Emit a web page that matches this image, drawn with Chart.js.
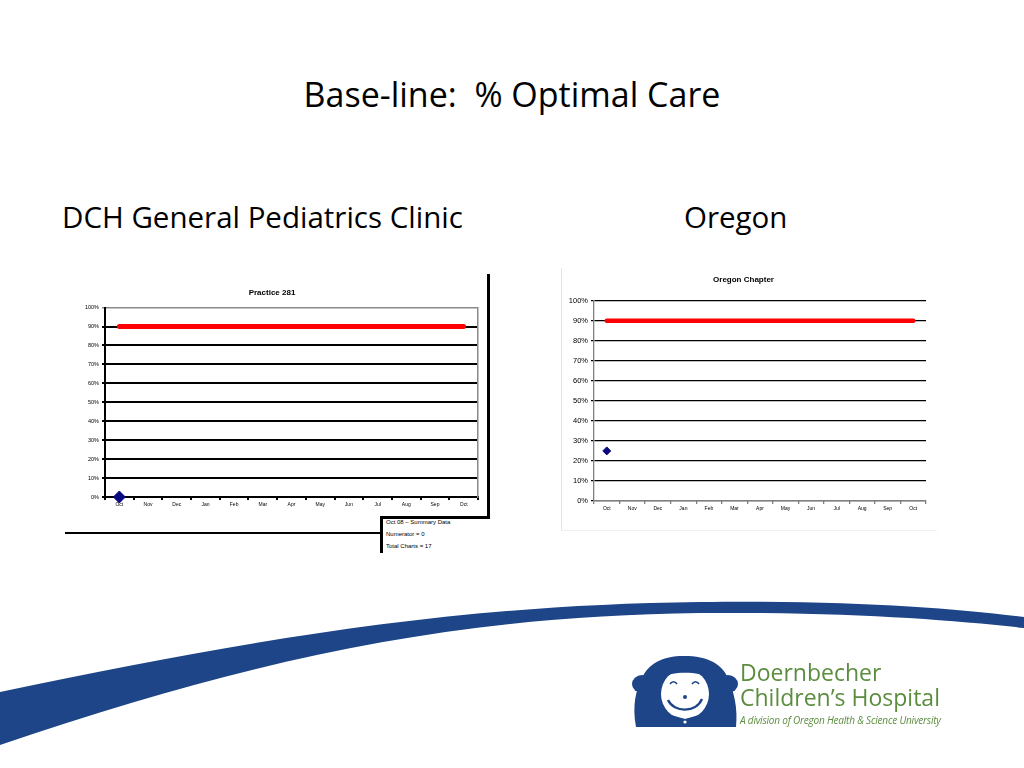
<!DOCTYPE html>
<html>
<head>
<meta charset="utf-8">
<script src="https://cdn.jsdelivr.net/npm/chart.js@4/dist/chart.umd.min.js"></script>
<style>
  body { margin: 0; background: #fff; }
  #slide { position: relative; width: 1024px; height: 768px; overflow: hidden; background: #fff; font-family: 'Open Sans', sans-serif; }
  .abs { position: absolute; }
  .title { left: 0; width: 1024px; top: 71px; text-align: center; font-size: 34px; color: #000; }
  .sub { font-size: 29.5px; top: 196px; color: #000; }
  .line { position: absolute; background: #000; }
  .note { position: absolute; left: 386px; font: 6px 'Liberation Sans', sans-serif; color: #000; }
  .logo-text { position: absolute; left: 740px; color: #5c8d3f; font-family: 'Open Sans', sans-serif; }
</style>
</head>
<body>
<div id="slide">
  <div class="abs title">Base-line:&nbsp; % Optimal Care</div>
  <div class="abs sub" style="left:62px">DCH General Pediatrics Clinic</div>
  <div class="abs sub" style="left:684px">Oregon</div>

  <!-- left chart -->
  <div class="abs" style="left:66px; top:280px; width:420px; height:235px">
    <canvas id="practiceChart" width="420" height="235"></canvas>
  </div>
  <div class="line" style="left:487px; top:274px; width:3px; height:245px"></div>
  <div class="line" style="left:380px; top:516px; width:110px; height:3px"></div>
  <div class="line" style="left:380px; top:516px; width:3px; height:37px"></div>
  <div class="line" style="left:65px; top:532px; width:317px; height:2px"></div>
  <div class="note" style="top:519px">Oct 08 – Summary Data</div>
  <div class="note" style="top:531px">Numerator = 0</div>
  <div class="note" style="top:543px">Total Charts = 17</div>

  <!-- right chart -->
  <div class="abs" style="left:561px; top:268px; width:375px; height:262px; border-left:1px solid #e4e4e4; border-bottom:1px solid #f0f0f0"></div>
  <div class="abs" style="left:561px; top:268px; width:375px; height:253px">
    <canvas id="oregonChart" width="375" height="253"></canvas>
  </div>

  <!-- swoosh -->
  <svg class="abs" style="left:0; top:0" width="1024" height="768">
    <path d="M0,692 C250,640 450,605 700,602 C850,600 950,608 1024,617 L1024,628 C950,620 850,612 700,613 C450,616 250,660 0,745 Z" fill="#1d4587"/>
    <!-- logo girl -->
    <g fill="#1d4587">
      <path d="M636,727 C632,705 636,690 642,678 C648,664 662,656 684,656 C708,656 722,664 728,678 C734,692 738,708 736,727 Z"/>
      <ellipse cx="642" cy="684" rx="10" ry="9"/>
      <ellipse cx="728" cy="684" rx="10" ry="9"/>
    </g>
    <ellipse cx="685" cy="694" rx="24" ry="25" fill="#fff"/>
    <path d="M662,678 C668,664 702,662 709,678 C700,671 670,671 662,678 Z" fill="#1d4587"/>
    <path d="M670,684 C672,681 675,681 677,684" stroke="#1d4587" stroke-width="1.6" fill="none"/>
    <path d="M692,684 C694,681 697,681 699,684" stroke="#1d4587" stroke-width="1.6" fill="none"/>
    <circle cx="685" cy="697" r="2" fill="#1d4587"/>
    <path d="M668,700 C674,713 696,713 702,699" stroke="#1d4587" stroke-width="2.4" fill="none"/>
    <path d="M658,727 L664,713 L685,719 L706,713 L712,727 Z" fill="#1d4587"/>
    <circle cx="685" cy="722" r="1.6" fill="#fff"/>
  </svg>
  <div class="logo-text" style="top:659px; font-size:23px; line-height:26px">Doernbecher</div>
  <div class="logo-text" style="top:684px; font-size:23px; line-height:26px">Children’s Hospital</div>
  <div class="logo-text" style="top:713px; font-size:10px; font-style:italic; letter-spacing:-0.2px">A division of Oregon Health &amp; Science University</div>
</div>

<script>
const months = ['Oct', 'Nov', 'Dec', 'Jan', 'Feb', 'Mar', 'Apr', 'May', 'Jun', 'Jul', 'Aug', 'Sep', 'Oct'];
const goalLine = [90, 90, 90, 90, 90, 90, 90, 90, 90, 90, 90, 90, 90];
const practice281 = [0, null, null, null, null, null, null, null, null, null, null, null, null];
const oregonChapter = [25, null, null, null, null, null, null, null, null, null, null, null, null];

const chartFont = 'Liberation Sans';

function makeChart(id, opts) {
  return new Chart(document.getElementById(id).getContext('2d'), {
    type: 'line',
    data: {
      labels: months,
      datasets: [
        {
          label: 'Goal',
          data: goalLine,
          borderColor: '#ff0000',
          borderWidth: opts.goalWidth,
          borderCapStyle: 'round',
          pointRadius: 0,
          tension: 0
        },
        {
          label: opts.name,
          data: opts.values,
          showLine: false,
          clip: false,
          pointStyle: 'rectRot',
          pointRadius: opts.dot,
          backgroundColor: '#0a0a80',
          borderColor: '#0a0a80'
        }
      ]
    },
    options: {
      responsive: false,
      animation: false,
      layout: { padding: opts.padding },
      plugins: {
        legend: { display: false },
        tooltip: { enabled: false },
        title: {
          display: true,
          text: opts.name,
          color: '#000',
          font: { family: chartFont, size: 8, weight: 'bold' },
          padding: opts.titlePad
        }
      },
      scales: {
        x: {
          offset: true,
          afterFit: (s) => { s.height = opts.xHeight; },
          ticks: { color: '#000', font: { family: chartFont, size: opts.xFont }, maxRotation: 0, autoSkip: false, padding: 2 },
          grid: { offset: true, drawOnChartArea: false, drawTicks: true, tickLength: 3, color: opts.axisColor, lineWidth: opts.gridWidth },
          border: { color: opts.axisColor, width: opts.gridWidth }
        },
        y: {
          min: 0,
          max: 100,
          afterFit: (s) => { s.width = opts.yWidth; },
          ticks: {
            stepSize: 10,
            color: '#000',
            font: { family: chartFont, size: opts.yFont },
            padding: 3,
            callback: (v) => v + '%'
          },
          grid: {
            drawTicks: true,
            tickLength: 3,
            color: (c) => (c.tick && c.tick.value === 100 && opts.greyTop) ? '#8a8a8a' : '#000',
            lineWidth: (c) => (c.tick && c.tick.value === 100 && opts.greyTop) ? 1.5 : opts.gridWidth
          },
          border: { color: opts.axisColor, width: opts.gridWidth }
        },
        y2: {
          position: 'right',
          display: opts.rightBorder,
          min: 0,
          max: 100,
          afterFit: (s) => { s.width = 0; },
          ticks: { display: false },
          grid: { display: false, drawTicks: false },
          border: { color: '#8a8a8a', width: 1.5 }
        }
      }
    }
  });
}

makeChart('practiceChart', {
  name: 'Practice 281',
  values: practice281,
  goalWidth: 5,
  dot: 6,
  padding: { top: 4, right: 8, left: 0, bottom: 0 },
  titlePad: { top: 4, bottom: 10 },
  xHeight: 18,
  yWidth: 39,
  xFont: 5,
  yFont: 5.5,
  axisColor: '#000',
  gridWidth: 2,
  greyTop: true,
  rightBorder: true
});

makeChart('oregonChart', {
  name: 'Oregon Chapter',
  values: oregonChapter,
  goalWidth: 4.5,
  dot: 4,
  padding: { top: 4, right: 10, left: 0, bottom: 0 },
  titlePad: { top: 3, bottom: 16 },
  xHeight: 20,
  yWidth: 33,
  xFont: 5,
  yFont: 7.5,
  axisColor: '#808080',
  gridWidth: 1.3,
  greyTop: false,
  rightBorder: false
});
</script>
</body>
</html>
